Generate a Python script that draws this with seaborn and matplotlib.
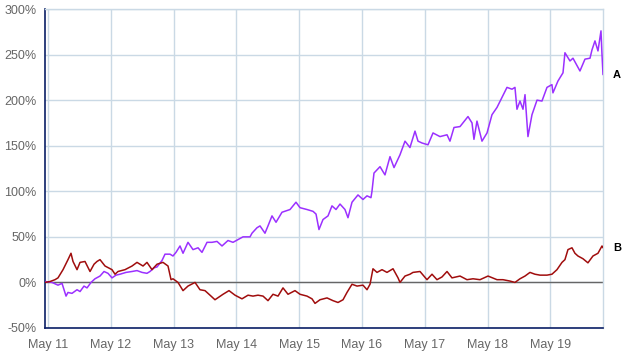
import matplotlib
matplotlib.use("Agg")
import matplotlib.pyplot as plt
import seaborn as sns
import pandas as pd

# Time is in decimal years; values are cumulative % return
A_time = [2011.281, 2011.393, 2011.488, 2011.552, 2011.616, 2011.647, 2011.711, 2011.791, 2011.839, 2011.902,
          2011.950, 2012.014, 2012.077, 2012.157, 2012.221, 2012.284, 2012.348, 2012.412, 2012.475, 2012.571,
          2012.667, 2012.746, 2012.826, 2012.905, 2012.953, 2013.017, 2013.065, 2013.144, 2013.192, 2013.272,
          2013.319, 2013.367, 2013.431, 2013.479, 2013.558, 2013.638, 2013.718, 2013.781, 2013.861, 2013.940,
          2014.020, 2014.100, 2014.195, 2014.275, 2014.354, 2014.434, 2014.546, 2014.577, 2014.657, 2014.705,
          2014.784, 2014.832, 2014.896, 2014.960, 2015.055, 2015.183, 2015.278, 2015.342, 2015.453, 2015.549,
          2015.597, 2015.644, 2015.708, 2015.788, 2015.851, 2015.915, 2015.979, 2016.058, 2016.106, 2016.170,
          2016.265, 2016.345, 2016.409, 2016.472, 2016.488, 2016.520, 2016.616, 2016.695, 2016.775, 2016.839,
          2016.934, 2017.014, 2017.093, 2017.173, 2017.221, 2017.284, 2017.380, 2017.460, 2017.571, 2017.683,
          2017.730, 2017.794, 2017.890, 2018.017, 2018.081, 2018.112, 2018.160, 2018.240, 2018.320, 2018.399,
          2018.479, 2018.558, 2018.638, 2018.718, 2018.765, 2018.797, 2018.845, 2018.893, 2018.925, 2018.972,
          2019.036, 2019.116, 2019.195, 2019.275, 2019.354, 2019.370, 2019.450, 2019.530, 2019.561, 2019.641,
          2019.689, 2019.800, 2019.880, 2019.960, 2019.991, 2020.039, 2020.087, 2020.135, 2020.151, 2020.167]
A_value = [1, 0, -3, -1, -15, -11, -12, -8, -10, -4,
           -6, 0, 4, 7, 12, 10, 5, 8, 9, 11,
           12, 13, 11, 10, 12, 16, 17, 24, 31, 31,
           29, 33, 40, 32, 44, 36, 38, 33, 44, 44,
           45, 40, 46, 44, 47, 50, 50, 54, 60, 62,
           54, 62, 73, 66, 77, 80, 88, 82, 80, 78,
           75, 58, 69, 73, 84, 80, 86, 80, 71, 88,
           96, 91, 95, 93, 100, 120, 127, 118, 138, 126,
           140, 155, 148, 166, 155, 153, 151, 164, 160, 162,
           155, 170, 171, 182, 175, 157, 177, 155, 164, 184,
           192, 203, 214, 212, 214, 190, 199, 190, 206, 160,
           184, 200, 199, 214, 217, 208, 221, 230, 252, 243,
           246, 232, 245, 246, 255, 265, 254, 276, 250, 228]

B_time = [2011.281, 2011.361, 2011.440, 2011.488, 2011.568, 2011.647, 2011.695, 2011.727, 2011.791, 2011.839,
          2011.918, 2011.998, 2012.062, 2012.109, 2012.157, 2012.237, 2012.348, 2012.396, 2012.444, 2012.555,
          2012.667, 2012.746, 2012.842, 2012.905, 2012.985, 2013.065, 2013.160, 2013.240, 2013.288, 2013.319,
          2013.399, 2013.479, 2013.558, 2013.670, 2013.749, 2013.829, 2013.909, 2013.988, 2014.052, 2014.116,
          2014.211, 2014.307, 2014.418, 2014.514, 2014.593, 2014.673, 2014.753, 2014.832, 2014.912, 2014.992,
          2015.071, 2015.151, 2015.262, 2015.342, 2015.453, 2015.533, 2015.581, 2015.660, 2015.772, 2015.867,
          2015.947, 2016.027, 2016.090, 2016.170, 2016.250, 2016.345, 2016.409, 2016.457, 2016.504, 2016.568,
          2016.648, 2016.727, 2016.823, 2016.903, 2016.934, 2017.014, 2017.093, 2017.141, 2017.253, 2017.364,
          2017.444, 2017.523, 2017.603, 2017.683, 2017.762, 2017.890, 2018.001, 2018.097, 2018.208, 2018.336,
          2018.479, 2018.574, 2018.686, 2018.765, 2018.845, 2018.925, 2019.004, 2019.084, 2019.164, 2019.275,
          2019.354, 2019.434, 2019.514, 2019.561, 2019.609, 2019.673, 2019.720, 2019.768, 2019.848, 2019.927,
          2020.007, 2020.087, 2020.151, 2020.167]
B_value = [0, 1, 3, 5, 14, 25, 32, 23, 14, 22,
           23, 12, 20, 23, 25, 18, 14, 9, 12, 14,
           18, 22, 18, 22, 14, 20, 22, 18, 3, 4,
           0, -9, -4, 0, -8, -9, -14, -19, -16, -13,
           -9, -14, -18, -14, -15, -14, -15, -20, -13, -15,
           -6, -13, -9, -13, -15, -18, -23, -19, -17, -20,
           -22, -19, -11, -2, -4, -3, -8, -2, 15, 11,
           14, 11, 15, 5, 0, 7, 9, 11, 12, 3,
           9, 3, 6, 12, 5, 7, 3, 4, 3, 7,
           3, 3, 1.5, 0, 4, 7, 11, 9, 8, 8,
           9, 14, 22, 25, 36, 38, 32, 29, 26, 21.5,
           29, 32, 40, 38]

series_names = ["A", "B"]
series_colors = {"A": "#9b30ff", "B": "#a00d0d"}

tick_years = [2011, 2012, 2013, 2014, 2015, 2016, 2017, 2018, 2019]
tick_labels = ["May 11", "May 12", "May 13", "May 14", "May 15", "May 16", "May 17", "May 18", "May 19"]
y_ticks = [-50, 0, 50, 100, 150, 200, 250, 300]

df = pd.concat([
    pd.DataFrame({"t": A_time, "v": A_value, "series": "A"}),
    pd.DataFrame({"t": B_time, "v": B_value, "series": "B"}),
], ignore_index=True)

sns.set_style("white")
plt.rcParams["font.family"] = ["Liberation Sans", "DejaVu Sans"]

fig = plt.figure(figsize=(6.32, 3.56), dpi=100)
ax = fig.add_axes([45 / 632, 1 - 328 / 356, (603 - 45) / 632, (328 - 9) / 356])

grid_c = "#cad9e5"
ax.set_axisbelow(True)
ax.grid(True, color=grid_c, linewidth=1)
ax.axhline(0, color="#666666", linewidth=1, zorder=2)

sns.lineplot(data=df, x="t", y="v", hue="series", palette=series_colors,
             estimator=None, legend=False, linewidth=1.1, ax=ax, zorder=3)

ax.set_xlim(A_time[0], A_time[-1])
ax.set_ylim(-50, 300)
ax.set_xticks([y + 120 / 365 for y in tick_years])
ax.set_xticklabels(tick_labels)
ax.set_yticks(y_ticks)
ax.set_yticklabels([f"{v}%" for v in y_ticks])
ax.set_xlabel("")
ax.set_ylabel("")
ax.tick_params(axis="both", length=0, labelsize=9, colors="#666666")
ax.tick_params(axis="x", pad=8)
ax.tick_params(axis="y", pad=6)

for s in ["top", "right"]:
    ax.spines[s].set_color(grid_c)
    ax.spines[s].set_linewidth(1)
for s in ["left", "bottom"]:
    ax.spines[s].set_color("#0b1f66")
    ax.spines[s].set_linewidth(1.2)

for name, tt, vv in [("A", A_time, A_value), ("B", B_time, B_value)]:
    ax.annotate(name, xy=(tt[-1], vv[-1]), xytext=(10, 0), textcoords="offset pixels",
                ha="left", va="center", fontsize=8, fontweight="bold", color="black",
                annotation_clip=False)

fig.savefig("out.png", dpi=100)
